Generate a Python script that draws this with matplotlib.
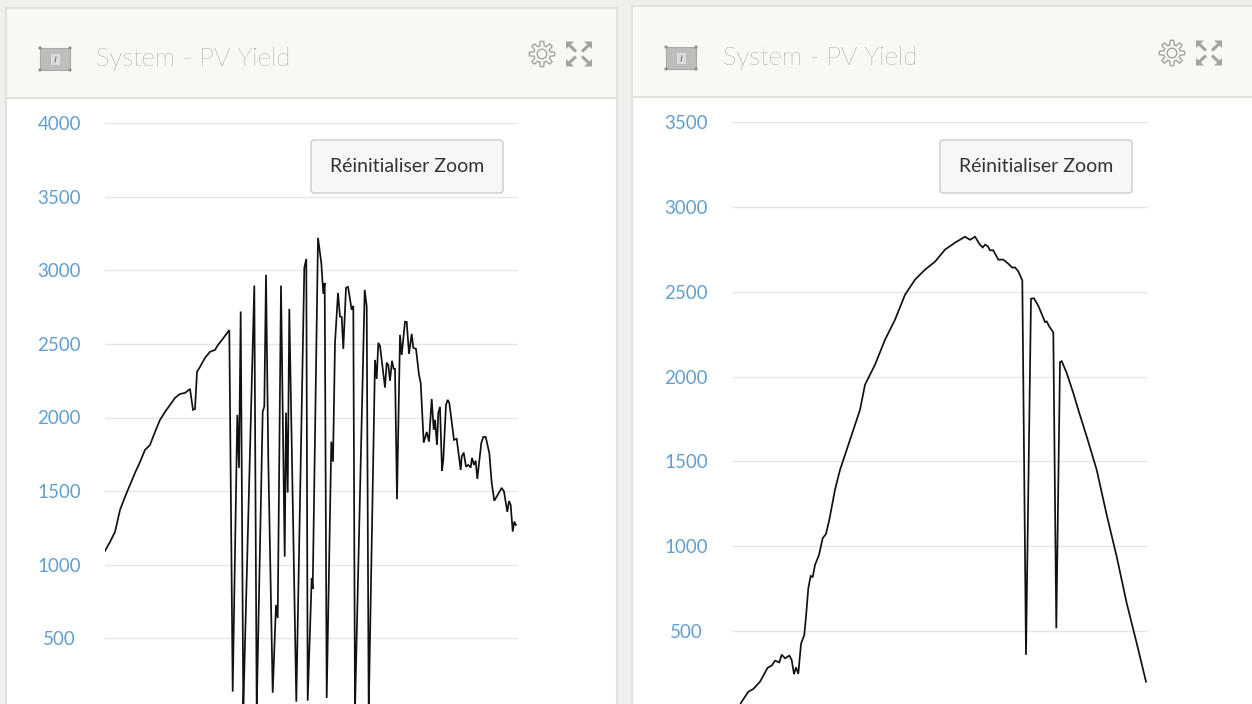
import numpy as np
import matplotlib
matplotlib.use('Agg')
import matplotlib.pyplot as plt
from matplotlib.patches import Rectangle, FancyBboxPatch, Polygon, Circle

W, H = 1252, 704

# PV yield, left panel (x = samples since start of zoom window, y = watts)
left_x = [0, 5, 10, 15, 20, 25, 30, 35, 40, 45,
          50, 55, 60, 65, 70, 75, 80, 85, 88, 90,
          92, 95, 100, 105, 110, 113, 117, 120, 124.3, 127.7,
          132.3, 134, 135.7, 138.3, 149.3, 151.7, 157.7, 159.3, 161, 163.3,
          167.7, 171, 172.7, 176, 179.7, 181, 182.7, 184.3, 191.3, 199.3,
          201.3, 202.7, 206.7, 207.7, 213, 216.3, 218.3, 219.7, 221.7, 226.3,
          228, 230, 233, 235, 236.7, 238.3, 241, 243, 246.7, 248.3,
          250, 259.7, 261.7, 263.7, 270, 271.7, 273.3, 275, 280, 281.7,
          283.3, 285, 287, 288.7, 290, 292, 295, 296.7, 300, 301.7,
          304, 306.7, 308.3, 311, 314, 315.7, 318.7, 321.7, 324, 326.7,
          328.7, 330, 332, 333.3, 335, 337, 338.3, 341, 342.7, 344.3,
          349, 351.7, 355.7, 356.7, 358.7, 361, 363.3, 365.7, 367, 369,
          370.7, 372.3, 376.3, 378.3, 380.7, 384.3, 386.7, 389.3, 396.7, 399,
          402.3, 404, 405.7, 407.7, 409.3, 411]
left_y = [1094, 1155, 1223, 1372, 1461, 1542, 1624, 1698, 1780, 1814,
          1902, 1984, 2038, 2086, 2133, 2160, 2167, 2194, 2052, 2058,
          2310, 2344, 2405, 2446, 2459, 2493, 2527, 2554, 2594, 138,
          2018, 1658, 2720, 20, 2896, 10, 2040, 2074, 2969, 1712,
          131, 727, 638, 2896, 1055, 2033, 1490, 2738, 70, 3016,
          3077, 77, 910, 836, 3220, 3050, 2840, 2914, 95, 1836,
          1700, 2507, 2846, 2685, 2683, 2466, 2880, 2889, 2731, 2758,
          15, 2867, 2754, 5, 2391, 2262, 2507, 2486, 2203, 2373,
          2357, 2249, 2385, 2330, 2330, 1445, 2561, 2425, 2651, 2649,
          2432, 2568, 2473, 2466, 2289, 2235, 1829, 1902, 1836, 2126,
          1916, 1984, 1814, 2031, 2072, 1639, 1712, 2086, 2120, 2099,
          1848, 1855, 1644, 1734, 1762, 1666, 1678, 1660, 1726, 1678,
          1707, 1583, 1827, 1868, 1868, 1759, 1556, 1435, 1522, 1497,
          1359, 1433, 1406, 1225, 1293, 1270]

# PV yield, right panel
right_x = [8.7, 16.3, 21.3, 28, 35.7, 39.7, 43, 47.3, 49.7, 53,
           57.3, 59.7, 62, 64, 66.3, 69, 72.3, 74, 76.3, 78.7,
           80.7, 83, 87, 90.7, 94, 97.3, 103, 108, 118, 128,
           133, 143, 153, 163, 173, 183, 193, 203, 213, 223,
           233, 238, 243, 248, 250.7, 253, 256, 258, 261.3, 266.3,
           271.3, 276.3, 280.3, 283, 286.3, 290.3, 294, 299, 302, 306.3,
           310.7, 313, 314.7, 317.3, 321.3, 324.3, 328, 329.7, 334.7, 341.3,
           346.3, 354.7, 364.7, 374.7, 384.7, 394.7, 404.7, 414]
right_y = [75, 143, 159, 202, 285, 297, 326, 316, 361, 340,
           356, 330, 246, 287, 248, 425, 478, 585, 753, 825,
           818, 890, 949, 1048, 1073, 1156, 1333, 1450, 1627, 1804,
           1952, 2070, 2217, 2335, 2482, 2571, 2630, 2677, 2748, 2789,
           2824, 2806, 2824, 2777, 2761, 2777, 2767, 2744, 2744, 2689,
           2689, 2665, 2642, 2643, 2620, 2567, 360, 2459, 2461, 2417,
           2355, 2321, 2325, 2295, 2260, 517, 2085, 2091, 2021, 1903,
           1804, 1647, 1450, 1185, 939, 665, 429, 202]

left_ticks = [0, 500, 1000, 1500, 2000, 2500, 3000, 3500, 4000]
right_ticks = [0, 500, 1000, 1500, 2000, 2500, 3000, 3500]

title = 'System - PV Yield'
button_label = 'Réinitialiser Zoom'

plt.rcParams['font.family'] = ['Lato', 'DejaVu Sans']

BG = '#f0efeb'
HEADER = '#f9f8f5'
EDGE = '#e2e1dc'
ICON = '#a3a3a0'

fig = plt.figure(figsize=(W / 100, H / 100), dpi=100, facecolor=BG)

# full-figure axes in pixels for the dashboard chrome
bg = fig.add_axes([0, 0, 1, 1])
bg.set_xlim(0, W)
bg.set_ylim(H, 0)
bg.axis('off')


def device_icon(x, y):
    bg.add_patch(Rectangle((x, y), 30, 22, fc='#bdbdbb', ec='#a9a9a7', lw=0.8))
    for cx, cy in [(x, y), (x + 30, y), (x, y + 22), (x + 30, y + 22)]:
        bg.add_patch(Circle((cx, cy), 1.6, fc='#8f8f8d', ec='none'))
    bg.add_patch(Rectangle((x + 11, y + 6), 9, 11, fc='#dcdcda', ec='none'))
    bg.plot([x + 16, x + 15], [y + 9, y + 14], color='#777777', lw=0.8)


def gear_icon(cx, cy):
    angles = np.linspace(0, 2 * np.pi, 97)
    radius = 10.5 + 2.2 * np.clip(2.2 * np.cos(8 * angles), -1, 1)
    pts = np.column_stack([cx + radius * np.cos(angles), cy + radius * np.sin(angles)])
    bg.add_patch(Polygon(pts, closed=True, fc='none', ec=ICON, lw=1))
    bg.add_patch(Circle((cx, cy), 4.8, fc='none', ec=ICON, lw=1))


def expand_icon(cx, cy):
    for sx, sy in [(-1, -1), (1, -1), (-1, 1), (1, 1)]:
        bg.plot([cx + sx * 3, cx + sx * 11], [cy + sy * 2.5, cy + sy * 10],
                color=ICON, lw=2.2, solid_capstyle='butt')
        corner = [(cx + sx * 13, cy + sy * 12.5), (cx + sx * 5, cy + sy * 12.5),
                  (cx + sx * 13, cy + sy * 5)]
        bg.add_patch(Polygon(corner, closed=True, fc=ICON, ec='none'))


def panel(x0, x1, top, header_bottom, button_x, icon_x, title_x, gear_x, expand_x):
    bg.add_patch(Rectangle((x0, top), x1 - x0, H - top + 5, fc='white', ec=EDGE, lw=1.5))
    bg.add_patch(Rectangle((x0, top), x1 - x0, header_bottom - top, fc=HEADER, ec=EDGE, lw=1.5))
    device_icon(icon_x, header_bottom - 50)
    bg.text(title_x, header_bottom - 39, title, fontsize=18.5, color='#6a6a67',
            va='center', ha='left', fontweight='light')
    gear_icon(gear_x, header_bottom - 44)
    expand_icon(expand_x, header_bottom - 44)
    bg.add_patch(FancyBboxPatch((button_x + 3, 143), 186, 47, boxstyle='round,pad=3',
                                fc='#f7f7f7', ec='#cccccc', lw=1))
    bg.text(button_x + 96, 166, button_label, fontsize=14, color='#333333',
            ha='center', va='center')


panel(6, 617, 8, 98, 311, 40, 96, 542, 579)
panel(632, 1262, 6, 97, 940, 666, 723, 1172, 1209)


def chart(x0, x1, y_top, y_zero, top_value, ticks, xs, ys, label_pad):
    ax = fig.add_axes([x0 / W, 1 - y_zero / H, (x1 - x0) / W, (y_zero - y_top) / H])
    ax.patch.set_alpha(0)
    ax.plot(xs, ys, color='#111111', lw=1.25, solid_joinstyle='miter')
    ax.set_xlim(0, x1 - x0)
    ax.set_ylim(0, top_value)
    ax.set_yticks(ticks)
    ax.set_xticks([])
    ax.grid(axis='y', color='#e6e6e6', lw=1)
    ax.set_axisbelow(True)
    ax.tick_params(axis='y', length=0, pad=label_pad, labelsize=13.5, labelcolor='#629fcf')
    for lab in ax.get_yticklabels():
        lab.set_ha('center')
        lab.set_clip_on(False)
    for s in ax.spines.values():
        s.set_visible(False)
    return ax


chart(105, 518, 123, 712, 4000, left_ticks, left_x, left_y, 33)
chart(732, 1148, 122, 716, 3500, right_ticks, right_x, right_y, 33)

fig.savefig('out.png', dpi=100, facecolor=BG)
